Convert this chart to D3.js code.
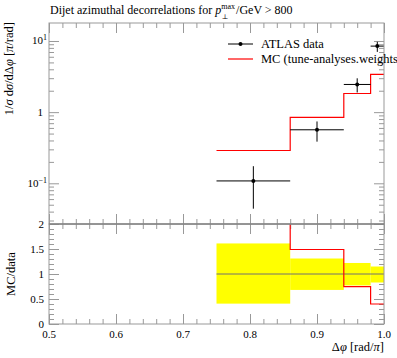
<!DOCTYPE html>
<html><head><meta charset="utf-8">
<script src="https://cdn.jsdelivr.net/npm/d3@7"></script>
<style>
body{margin:0;background:#fff;}
svg{display:block;font-family:"Liberation Serif","DejaVu Serif",serif;}
</style></head>
<body><div id="chart"></div>
<script>
// ---- data ----
const binLo = [0.75, 0.86, 0.94, 0.98];
const binHi = [0.86, 0.94, 0.98, 1.00];
const dataX = [0.805, 0.90, 0.96, 0.99];
const dataY = [0.108, 0.565, 2.45, 8.47];
const dataErrUp = [0.066, 0.175, 0.54, 1.27];
const dataErrDn = [0.064, 0.180, 0.56, 1.44];
const mcY = [0.289, 0.842, 1.83, 3.39];
const xMajor = [0.5, 0.6, 0.7, 0.8, 0.9, 1.0];
const xMajorLabels = ["0.5", "0.6", "0.7", "0.8", "0.9", "1.0"];
const yMainMajor = [0.1, 1, 10];
const rMajor = [0, 0.5, 1, 1.5, 2];
const rMajorLabels = ["0", "0.5", "1", "1.5", "2"];

const W = 397, H = 358;
const L = 49, R = 384, T = 23, M = 224, B = 324;
const svg = d3.select("#chart").append("svg").attr("width", W).attr("height", H);

const x = d3.scaleLinear().domain([0.5, 1.0]).range([L, R]);
const y = d3.scaleLog().domain([0.0268, 17.9]).range([M, T]);
const yr = d3.scaleLinear().domain([0, 2]).range([B, M]);

const frameCol = "#999";
const fs = 11;

// clip paths
const defs = svg.append("defs");
defs.append("clipPath").attr("id", "cm").append("rect").attr("x", L).attr("y", T).attr("width", R - L).attr("height", M - T);
defs.append("clipPath").attr("id", "cr").append("rect").attr("x", L).attr("y", M).attr("width", R - L).attr("height", B - M);

// minor ticks
const xMinor = d3.range(0.5, 1.0001, 0.02).filter(v => xMajor.every(m => Math.abs(m - v) > 1e-6));
const yMinor = [];
[0.01, 0.1, 1, 10].forEach(d => { for (let k = 2; k <= 9; k++) { const v = d * k; if (v > 0.0268 && v < 17.9) yMinor.push(v); } });
const rMinor = d3.range(0, 2.0001, 0.1).filter(v => rMajor.every(m => Math.abs(m - v) > 1e-6));

function styleAxis(g) {
  g.select(".domain").remove();
  g.selectAll("line").attr("stroke", frameCol);
  g.selectAll("text").remove();
}
// main panel x ticks
svg.append("g").attr("transform", `translate(0,${T})`).call(d3.axisTop(x).tickValues(xMajor).tickSize(-10)).call(styleAxis);
svg.append("g").attr("transform", `translate(0,${T})`).call(d3.axisTop(x).tickValues(xMinor).tickSize(-5)).call(styleAxis);
svg.append("g").attr("transform", `translate(0,${M})`).call(d3.axisBottom(x).tickValues(xMajor).tickSize(-10)).call(styleAxis);
svg.append("g").attr("transform", `translate(0,${M})`).call(d3.axisBottom(x).tickValues(xMinor).tickSize(-5)).call(styleAxis);
// ratio panel x ticks
svg.append("g").attr("transform", `translate(0,${M})`).call(d3.axisTop(x).tickValues(xMajor).tickSize(-10)).call(styleAxis);
svg.append("g").attr("transform", `translate(0,${M})`).call(d3.axisTop(x).tickValues(xMinor).tickSize(-5)).call(styleAxis);
svg.append("g").attr("transform", `translate(0,${B})`).call(d3.axisBottom(x).tickValues(xMajor).tickSize(-10)).call(styleAxis);
svg.append("g").attr("transform", `translate(0,${B})`).call(d3.axisBottom(x).tickValues(xMinor).tickSize(-5)).call(styleAxis);
// main y ticks
svg.append("g").attr("transform", `translate(${L},0)`).call(d3.axisLeft(y).tickValues(yMainMajor).tickSize(-10)).call(styleAxis);
svg.append("g").attr("transform", `translate(${L},0)`).call(d3.axisLeft(y).tickValues(yMinor).tickSize(-5)).call(styleAxis);
svg.append("g").attr("transform", `translate(${R},0)`).call(d3.axisRight(y).tickValues(yMainMajor).tickSize(-10)).call(styleAxis);
svg.append("g").attr("transform", `translate(${R},0)`).call(d3.axisRight(y).tickValues(yMinor).tickSize(-5)).call(styleAxis);
// ratio y ticks
svg.append("g").attr("transform", `translate(${L},0)`).call(d3.axisLeft(yr).tickValues(rMajor).tickSize(-10)).call(styleAxis);
svg.append("g").attr("transform", `translate(${L},0)`).call(d3.axisLeft(yr).tickValues(rMinor).tickSize(-5)).call(styleAxis);
svg.append("g").attr("transform", `translate(${R},0)`).call(d3.axisRight(yr).tickValues(rMajor).tickSize(-10)).call(styleAxis);
svg.append("g").attr("transform", `translate(${R},0)`).call(d3.axisRight(yr).tickValues(rMinor).tickSize(-5)).call(styleAxis);

// ---- ratio panel ----
const gr = svg.append("g").attr("clip-path", "url(#cr)");
gr.selectAll("rect.band").data(binLo).enter().append("rect")
  .attr("x", (d, i) => x(binLo[i]))
  .attr("width", (d, i) => x(binHi[i]) - x(binLo[i]))
  .attr("y", (d, i) => yr(1 + dataErrUp[i] / dataY[i]))
  .attr("height", (d, i) => yr(1 - dataErrDn[i] / dataY[i]) - yr(1 + dataErrUp[i] / dataY[i]))
  .attr("fill", "#ffff00");
gr.append("line").attr("x1", x(binLo[0])).attr("x2", x(binHi[3])).attr("y1", yr(1)).attr("y2", yr(1))
  .attr("stroke", "#707070").attr("stroke-width", 1);
const ratioStep = [];
binLo.forEach((lo, i) => { const r = mcY[i] / dataY[i]; ratioStep.push([lo, r], [binHi[i], r]); });
gr.append("path").attr("d", d3.line().x(d => x(d[0])).y(d => yr(d[1]))(ratioStep))
  .attr("fill", "none").attr("stroke", "#ff0000").attr("stroke-width", 1.2);

// ---- main panel ----
const gm = svg.append("g").attr("clip-path", "url(#cm)");
const mcStep = [];
binLo.forEach((lo, i) => { mcStep.push([lo, mcY[i]], [binHi[i], mcY[i]]); });
gm.append("path").attr("d", d3.line().x(d => x(d[0])).y(d => y(d[1]))(mcStep))
  .attr("fill", "none").attr("stroke", "#ff0000").attr("stroke-width", 1.2);
dataY.forEach((v, i) => {
  gm.append("line").attr("x1", x(binLo[i])).attr("x2", x(binHi[i])).attr("y1", y(v)).attr("y2", y(v)).attr("stroke", "#000").attr("stroke-width", 1);
  gm.append("line").attr("x1", x(dataX[i])).attr("x2", x(dataX[i])).attr("y1", y(v + dataErrUp[i])).attr("y2", y(v - dataErrDn[i])).attr("stroke", "#000").attr("stroke-width", 1);
  gm.append("circle").attr("cx", x(dataX[i])).attr("cy", y(v)).attr("r", 2).attr("fill", "#000");
});

// frames
svg.append("rect").attr("x", L).attr("y", T).attr("width", R - L).attr("height", M - T).attr("fill", "none").attr("stroke", frameCol);
svg.append("rect").attr("x", L).attr("y", M).attr("width", R - L).attr("height", B - M).attr("fill", "none").attr("stroke", frameCol);
svg.append("line").attr("x1", L).attr("x2", R).attr("y1", M).attr("y2", M).attr("stroke", "#777");

// ---- labels ----
const txt = svg.append("g").attr("font-size", fs).attr("fill", "#000");
xMajor.forEach((v, i) => {
  txt.append("text").attr("x", x(v)).attr("y", 338).attr("text-anchor", "middle").text(xMajorLabels[i]);
});
rMajor.forEach((v, i) => {
  txt.append("text").attr("x", 44).attr("y", yr(v) + 3.5).attr("text-anchor", "end").text(rMajorLabels[i]);
});
// log labels
[[10, "10", "1"], [1, "1", null], [0.1, "10", "\u22121"]].forEach(([v, base, ex]) => {
  const t = txt.append("text").attr("x", ex ? 47 : 43).attr("y", y(v) + 3.5).attr("text-anchor", "end");
  t.append("tspan").text(base);
  if (ex) t.append("tspan").attr("dy", -4).attr("font-size", 8).text(ex);
});

// title
const tfs = 12;
const title = svg.append("text").attr("x", 50).attr("y", 14).attr("font-size", tfs);
title.append("tspan").text("Dijet azimuthal decorrelations for ");
title.append("tspan").attr("font-style", "italic").text("p");
title.append("tspan").attr("font-size", 8).attr("dy", -5).text("max");
title.append("tspan").attr("dy", 5).attr("dx", 1).text("/GeV > 800");
// subscript perp symbol placed below "max"
const tNode = title.node();
const pEnd = tNode.getSubStringLength ? tNode.getSubStringLength(0, "Dijet azimuthal decorrelations for p".length) : 0;
svg.append("text").attr("x", 50 + pEnd + 0.5).attr("y", 18.5).attr("font-size", 7).text("\u22a5");

// legend
const lfs = 12.5;
svg.append("line").attr("x1", 228).attr("x2", 253).attr("y1", 44).attr("y2", 44).attr("stroke", "#000");
svg.append("circle").attr("cx", 240.5).attr("cy", 44).attr("r", 2).attr("fill", "#000");
svg.append("text").attr("x", 261).attr("y", 47.5).attr("font-size", lfs).text("ATLAS data");
svg.append("line").attr("x1", 228).attr("x2", 253).attr("y1", 59).attr("y2", 59).attr("stroke", "#ff0000").attr("stroke-width", 1.2);
svg.append("text").attr("x", 261).attr("y", 62.5).attr("font-size", lfs).text("MC (tune-analyses.weights)");

// axis titles
const yl = svg.append("text").attr("transform", "translate(13,22) rotate(-90)").attr("text-anchor", "end").attr("font-size", 12.5);
yl.append("tspan").text("1/");
yl.append("tspan").attr("font-style", "italic").text("\u03c3");
yl.append("tspan").text(" d");
yl.append("tspan").attr("font-style", "italic").text("\u03c3");
yl.append("tspan").text("/d\u0394");
yl.append("tspan").attr("font-style", "italic").text("\u03c6");
yl.append("tspan").text(" [");
yl.append("tspan").attr("font-style", "italic").text("\u03c0");
yl.append("tspan").text("/rad]");

svg.append("text").attr("transform", "translate(15,274) rotate(-90)").attr("text-anchor", "middle").attr("font-size", 12.5).text("MC/data");

const xl = svg.append("text").attr("x", 384).attr("y", 351).attr("text-anchor", "end").attr("font-size", 12.5);
xl.append("tspan").text("\u0394");
xl.append("tspan").attr("font-style", "italic").text("\u03c6");
xl.append("tspan").text(" [rad/");
xl.append("tspan").attr("font-style", "italic").text("\u03c0");
xl.append("tspan").text("]");
</script></body></html>
